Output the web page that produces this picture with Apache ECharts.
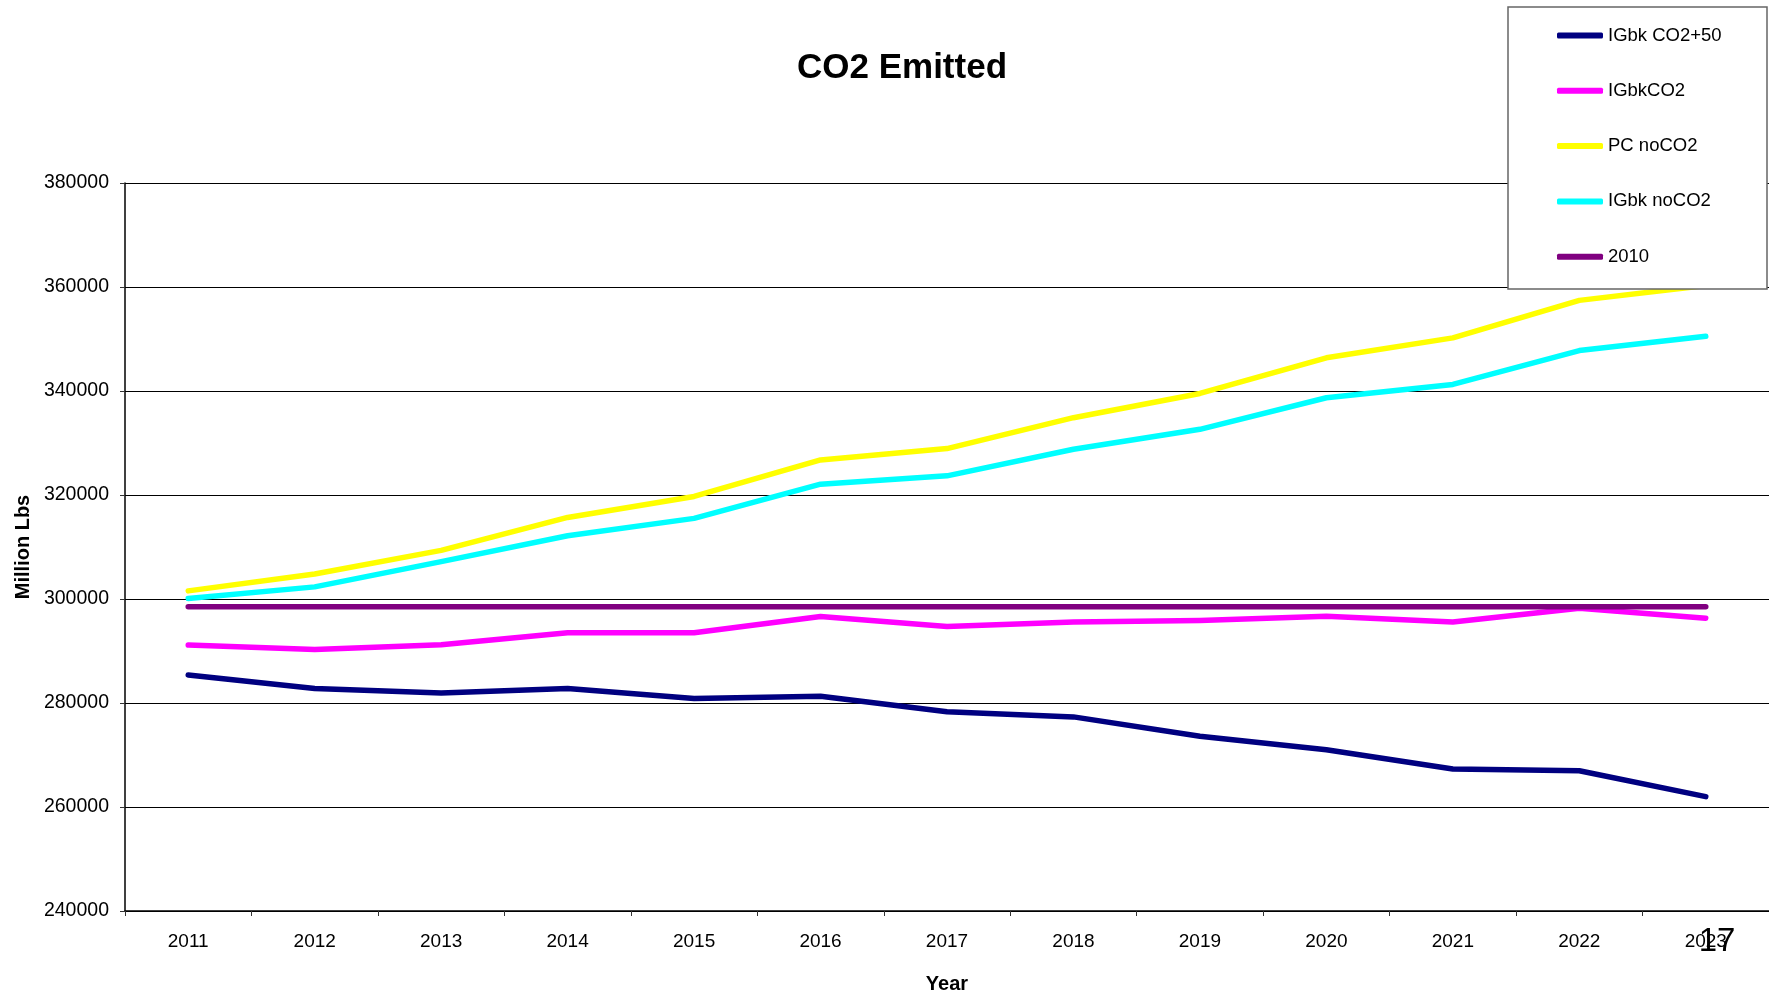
<!DOCTYPE html>
<html>
<head>
<meta charset="utf-8">
<title>CO2 Emitted</title>
<script src="https://cdn.jsdelivr.net/npm/echarts@6/dist/echarts.min.js"></script>
<style>
  html, body { margin: 0; padding: 0; background: #ffffff; }
  #chart { width: 1769px; height: 999px; }
</style>
</head>
<body>
<div id="chart"></div>
<script>
// Years on the category axis
const years = ['2011', '2012', '2013', '2014', '2015', '2016', '2017', '2018', '2019', '2020', '2021', '2022', '2023'];

// Emissions per scenario, million lbs
const igbkCo2Plus50 = [285400, 282770, 281940, 282770, 280850, 281300, 278300, 277330, 273620, 271010, 267290, 266980, 261990];
const igbkCo2 = [291150, 290300, 291200, 293500, 293500, 296640, 294720, 295560, 295870, 296700, 295560, 298240, 296320];
const pcNoCo2 = [301560, 304820, 309350, 315690, 319720, 326740, 328930, 334870, 339530, 346380, 350210, 357430, 360300];
const igbkNoCo2 = [300090, 302330, 307190, 312170, 315500, 322080, 323680, 328800, 332630, 338710, 341260, 347780, 350530];
const baseline2010 = [298500, 298500, 298500, 298500, 298500, 298500, 298500, 298500, 298500, 298500, 298500, 298500, 298500];

// Value axis range
const yMin = 240000;
const yMax = 380000;
const yStep = 20000;

const seriesDefs = [
  { name: 'IGbk CO2+50', data: igbkCo2Plus50, color: '#000080' },
  { name: 'IGbkCO2', data: igbkCo2, color: '#FF00FF' },
  { name: 'PC noCO2', data: pcNoCo2, color: '#FFFF00' },
  { name: 'IGbk noCO2', data: igbkNoCo2, color: '#00FFFF' },
  { name: '2010', data: baseline2010, color: '#800080' }
];

const FONT = "'Liberation Sans', Arial, Helvetica, sans-serif";

const chart = echarts.init(document.getElementById('chart'), null, { renderer: 'canvas' });

chart.setOption({
  animation: false,
  backgroundColor: '#ffffff',
  title: {
    text: 'CO2 Emitted',
    left: 902,
    top: 51,
    textAlign: 'center',
    padding: 0,
    textStyle: { fontFamily: FONT, fontSize: 35, fontWeight: 'bold', color: '#000000' }
  },
  grid: { left: 125, top: 183, width: 1648, height: 730, containLabel: false },
  xAxis: {
    type: 'category',
    data: years,
    boundaryGap: true,
    name: 'Year',
    nameLocation: 'middle',
    nameGap: 63,
    nameTextStyle: { fontFamily: FONT, fontSize: 20, fontWeight: 'bold', color: '#000000' },
    axisLine: { show: true, lineStyle: { color: '#000000', width: 1.5 } },
    axisTick: { show: true, alignWithLabel: false, length: 5, lineStyle: { color: '#333333', width: 1 } },
    axisLabel: { fontFamily: FONT, fontSize: 19, color: '#000000', margin: 21 },
    splitLine: { show: false }
  },
  yAxis: {
    type: 'value',
    min: yMin,
    max: yMax,
    interval: yStep,
    name: 'Million Lbs',
    nameLocation: 'middle',
    nameGap: 87,
    nameTextStyle: { fontFamily: FONT, fontSize: 20, fontWeight: 'bold', color: '#000000' },
    axisLine: { show: true, lineStyle: { color: '#000000', width: 1.5 } },
    axisTick: { show: true, inside: false, length: 5, lineStyle: { color: '#333333', width: 1 } },
    axisLabel: {
      fontFamily: FONT,
      fontSize: 19.5,
      color: '#000000',
      margin: 16,
      formatter: v => String(v)
    },
    splitLine: { show: true, lineStyle: { color: '#000000', width: 1 } }
  },
  legend: {
    orient: 'vertical',
    left: 1557,
    top: 25.5,
    padding: 0,
    z: 60,
    itemWidth: 46,
    itemHeight: 6,
    itemGap: 35.3,
    icon: 'roundRect',
    selectedMode: false,
    data: seriesDefs.map(s => s.name),
    textStyle: { fontFamily: FONT, fontSize: 18.5, color: '#000000', lineHeight: 20 }
  },
  graphic: [
    {
      type: 'rect',
      z: 50,
      shape: { x: 1508, y: 7, width: 259, height: 282 },
      style: { fill: '#ffffff', stroke: '#666666', lineWidth: 1.5 }
    },
    {
      type: 'text',
      z: 50,
      x: 1717,
      y: 942,
      style: {
        text: '17',
        fontFamily: FONT,
        fontSize: 33,
        fill: '#000000',
        align: 'center',
        verticalAlign: 'middle'
      }
    }
  ],
  series: seriesDefs.map(s => ({
    name: s.name,
    type: 'line',
    data: s.data,
    color: s.color,
    showSymbol: false,
    symbol: 'none',
    lineStyle: { color: s.color, width: 5.5, cap: 'round', join: 'round' }
  }))
});
</script>
</body>
</html>
